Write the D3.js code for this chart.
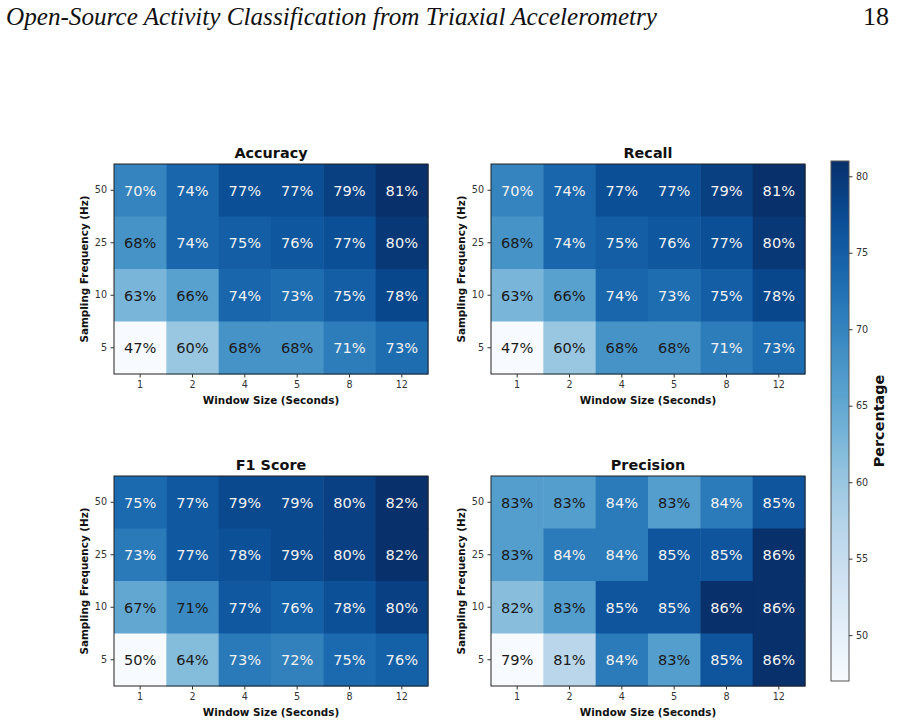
<!DOCTYPE html>
<html>
<head>
<meta charset="utf-8">
<script src="https://cdn.jsdelivr.net/npm/d3@7"></script>
<style>
  body { margin: 0; background: #fff; }
  svg { display: block; font-family: "DejaVu Sans", sans-serif; }
</style>
</head>
<body>
<svg width="898" height="724"></svg>
<script>
var svg = d3.select('svg');

// data
var windowSizes = ["1", "2", "4", "5", "8", "12"];
var frequencies = ["50", "25", "10", "5"];   // top row first

var accuracy = [
    [70, 74, 77, 77, 79, 81],
    [68, 74, 75, 76, 77, 80],
    [63, 66, 74, 73, 75, 78],
    [47, 60, 68, 68, 71, 73]
];
var recall = [
    [70, 74, 77, 77, 79, 81],
    [68, 74, 75, 76, 77, 80],
    [63, 66, 74, 73, 75, 78],
    [47, 60, 68, 68, 71, 73]
];
var f1Score = [
    [75, 77, 79, 79, 80, 82],
    [73, 77, 78, 79, 80, 82],
    [67, 71, 77, 76, 78, 80],
    [50, 64, 73, 72, 75, 76]
];
var precision = [
    [83, 83, 84, 83, 84, 85],
    [83, 84, 84, 85, 85, 86],
    [82, 83, 85, 85, 86, 86],
    [79, 81, 84, 83, 85, 86]
];
var colorbarTicks = [50, 55, 60, 65, 70, 75, 80];

var panels = [
    { title: "Accuracy",  values: accuracy,  x: 114, y: 164 },
    { title: "Recall",    values: recall,    x: 491, y: 164 },
    { title: "F1 Score",  values: f1Score,   x: 114, y: 476 },
    { title: "Precision", values: precision, x: 491, y: 476 }
];
var mapW = 314;
var mapH = 210;

// page header
svg.append("text").attr("x", 6).attr("y", 25)
    .attr("font-family", "'Liberation Serif', 'DejaVu Serif', serif")
    .attr("font-style", "italic")
    .attr("font-size", 26)
    .attr("textLength", 651)
    .attr("lengthAdjust", "spacingAndGlyphs")
    .attr("fill", "#111")
    .text("Open-Source Activity Classification from Triaxial Accelerometry");

svg.append("text").attr("x", 889).attr("y", 25)
    .attr("text-anchor", "end")
    .attr("font-family", "'Liberation Serif', 'DejaVu Serif', serif")
    .attr("font-size", 26)
    .attr("fill", "#111")
    .text("18");

panels.forEach(function(p) {
    var flat = d3.merge(p.values);
    var lo = d3.min(flat), hi = d3.max(flat);
    var norm = d3.scaleLinear().domain([lo, hi]).range([0, 1]);

    var x = d3.scaleBand().domain(windowSizes).range([0, mapW]);
    var y = d3.scaleBand().domain(frequencies).range([0, mapH]);

    var g = svg.append("g").attr("transform", "translate(" + p.x + "," + p.y + ")");

    var cells = [];
    p.values.forEach(function(row, i) {
        row.forEach(function(v, j) {
            cells.push({ freq: frequencies[i], win: windowSizes[j], value: v });
        });
    });

    g.selectAll("rect.cell").data(cells).enter().append("rect")
        .attr("class", "cell")
        .attr("x", function(d) { return x(d.win); })
        .attr("y", function(d) { return y(d.freq); })
        .attr("width", x.bandwidth() + 0.5)
        .attr("height", y.bandwidth() + 0.5)
        .attr("fill", function(d) { return d3.interpolateBlues(norm(d.value)); });

    g.selectAll("text.val").data(cells).enter().append("text")
        .attr("class", "val")
        .attr("x", function(d) { return x(d.win) + x.bandwidth() / 2; })
        .attr("y", function(d) { return y(d.freq) + y.bandwidth() / 2; })
        .attr("dy", "0.36em")
        .attr("text-anchor", "middle")
        .attr("font-size", 14.6)
        .attr("fill", function(d) { return norm(d.value) > 0.665 ? "#f2f2f2" : "#1a1a1a"; })
        .text(function(d) { return d.value + "%"; });

    // frame
    g.append("rect").attr("width", mapW).attr("height", mapH)
        .attr("fill", "none").attr("stroke", "#222").attr("stroke-width", 1);

    var xAxis = g.append("g").attr("transform", "translate(0," + mapH + ")")
        .call(d3.axisBottom(x).tickSize(3.5).tickPadding(3.5));
    var yAxis = g.append("g")
        .call(d3.axisLeft(y).tickSize(3.5).tickPadding(3.5));
    [xAxis, yAxis].forEach(function(a) {
        a.select(".domain").remove();
        a.selectAll("line").attr("stroke", "#333");
        a.selectAll("text").attr("font-size", 9.6).attr("fill", "#333")
            .attr("font-family", "'DejaVu Sans', sans-serif");
    });

    g.append("text").attr("x", mapW / 2).attr("y", -6)
        .attr("text-anchor", "middle")
        .attr("font-weight", "bold").attr("font-size", 14.4)
        .attr("fill", "#111")
        .text(p.title);

    g.append("text").attr("x", mapW / 2).attr("y", mapH + 30)
        .attr("text-anchor", "middle")
        .attr("font-weight", "bold").attr("font-size", 10.4)
        .attr("fill", "#111")
        .text("Window Size (Seconds)");

    g.append("text")
        .attr("transform", "translate(-26," + (mapH / 2) + ") rotate(-90)")
        .attr("text-anchor", "middle")
        .attr("font-weight", "bold").attr("font-size", 10.4)
        .attr("fill", "#111")
        .text("Sampling Frequency (Hz)");
});

// colorbar (range of the accuracy map)
var cbLo = d3.min(d3.merge(accuracy)), cbHi = d3.max(d3.merge(accuracy));
var cbX = 831, cbTop = 161, cbW = 18, cbH = 520;
var cbScale = d3.scaleLinear().domain([cbLo, cbHi]).range([cbTop + cbH, cbTop]);

var grad = svg.append("defs").append("linearGradient")
    .attr("id", "cbgrad").attr("x1", 0).attr("y1", 1).attr("x2", 0).attr("y2", 0);
d3.range(0, 1.0001, 0.05).forEach(function(t) {
    grad.append("stop").attr("offset", t).attr("stop-color", d3.interpolateBlues(t));
});

svg.append("rect").attr("x", cbX).attr("y", cbTop).attr("width", cbW).attr("height", cbH)
    .attr("fill", "url(#cbgrad)").attr("stroke", "#555").attr("stroke-width", 1);

var cbAxis = svg.append("g").attr("transform", "translate(" + (cbX + cbW) + ",0)")
    .call(d3.axisRight(cbScale).tickValues(colorbarTicks).tickSize(3.5).tickPadding(3.5));
cbAxis.select(".domain").remove();
cbAxis.selectAll("line").attr("stroke", "#333");
cbAxis.selectAll("text").attr("font-size", 9.6).attr("fill", "#333")
    .attr("font-family", "'DejaVu Sans', sans-serif");

svg.append("text")
    .attr("transform", "translate(884," + (cbTop + cbH / 2) + ") rotate(-90)")
    .attr("text-anchor", "middle")
    .attr("font-weight", "bold").attr("font-size", 14.4)
    .attr("fill", "#111")
    .text("Percentage");
</script>
</body>
</html>
